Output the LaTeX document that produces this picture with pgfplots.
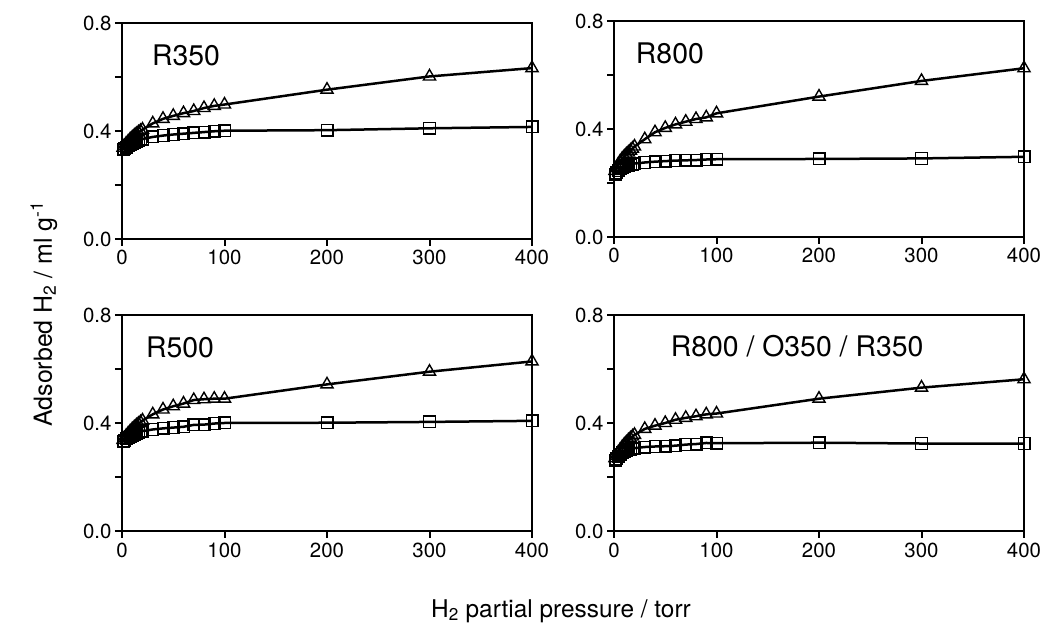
\documentclass[border=0pt]{standalone}
\usepackage{fontspec}
\setmainfont{TeX Gyre Heros}
\usepackage{pgfplots}
\pgfplotsset{compat=1.18}

\pgfplotsset{
  panel/.style={
    scale only axis, width=410bp, height=216bp,
    xmin=0, xmax=400, ymin=0, ymax=0.8,
    xtick={0,100,200,300,400}, ytick={0,0.4,0.8},
    minor ytick={0.2,0.6},
    xtick pos=bottom, ytick pos=left, tick align=outside,
    major tick length=7bp, minor tick length=7bp,
    every tick/.style={black, line width=2bp},
    axis line style={line width=2.6bp},
    yticklabel style={/pgf/number format/fixed, /pgf/number format/fixed zerofill, /pgf/number format/precision=1},
    /pgf/number format/assume math mode=true,
    tick label style={font=\fontsize{20.5}{23}\selectfont},
    xticklabel style={yshift=-1bp},
    clip=false,
  },
  sq/.style={black, line width=2.5bp, mark=square, mark size=5.8bp, mark options={fill=white, line width=1.4bp}},
  tri/.style={black, line width=2.5bp, mark=triangle, mark size=7bp, mark options={fill=white, line width=1.4bp}},
}
\tikzset{lab/.style={anchor=west, font=\fontsize{28.5}{31}\selectfont}}

\begin{document}
\begin{tikzpicture}
\useasboundingbox (0,0) rectangle (1045bp,632bp);

% R350
\begin{axis}[panel, at={(122bp,393bp)}, anchor=south west]
  \addplot[tri] coordinates {
    (1,0.338)(2,0.344)(4,0.353)(6,0.361)(8,0.369)(10,0.376)(12,0.383)(14,0.389)(16,0.395)(18,0.400)(20,0.405)
    (30,0.428)(40,0.445)(50,0.456)(60,0.466)(70,0.474)(80,0.485)(90,0.493)(100,0.498)(200,0.553)(300,0.602)(400,0.633)};
  \addplot[sq] coordinates {
    (1,0.330)(2,0.334)(4,0.340)(6,0.345)(8,0.350)(10,0.354)(12,0.358)(14,0.361)(16,0.364)(18,0.367)(20,0.370)
    (30,0.378)(40,0.383)(50,0.387)(60,0.390)(70,0.393)(80,0.396)(90,0.399)(100,0.401)(200,0.403)(300,0.410)(400,0.415)};
  \node[lab] at (rel axis cs:0.065,0.85) {R350};
\end{axis}

% R800
\begin{axis}[panel, at={(614bp,395bp)}, anchor=south west]
  \addplot[tri] coordinates {
    (1,0.245)(2,0.255)(4,0.268)(6,0.280)(8,0.290)(10,0.298)(12,0.306)(14,0.313)(16,0.320)(18,0.327)(20,0.335)
    (30,0.362)(40,0.388)(50,0.404)(60,0.417)(70,0.427)(80,0.437)(90,0.443)(100,0.458)(200,0.520)(300,0.578)(400,0.625)};
  \addplot[sq] coordinates {
    (1,0.232)(2,0.238)(4,0.246)(6,0.252)(8,0.257)(10,0.261)(12,0.264)(14,0.266)(16,0.268)(18,0.270)(20,0.272)
    (30,0.276)(40,0.279)(50,0.281)(60,0.283)(70,0.284)(80,0.285)(90,0.287)(100,0.288)(200,0.289)(300,0.291)(400,0.297)};
  \node[lab] at (rel axis cs:0.045,0.85) {R800};
\end{axis}

% R500
\begin{axis}[panel, at={(122bp,101bp)}, anchor=south west]
  \addplot[tri] coordinates {
    (1,0.337)(2,0.343)(4,0.352)(6,0.361)(8,0.369)(10,0.377)(12,0.384)(14,0.391)(16,0.397)(18,0.403)(20,0.409)
    (30,0.432)(40,0.450)(50,0.462)(60,0.472)(70,0.485)(80,0.488)(90,0.490)(100,0.490)(200,0.543)(300,0.590)(400,0.628)};
  \addplot[sq] coordinates {
    (1,0.330)(2,0.335)(4,0.341)(6,0.346)(8,0.351)(10,0.355)(12,0.358)(14,0.361)(16,0.364)(18,0.367)(20,0.370)
    (30,0.376)(40,0.380)(50,0.383)(60,0.386)(70,0.393)(80,0.394)(90,0.398)(100,0.400)(200,0.401)(300,0.404)(400,0.408)};
  \node[lab] at (rel axis cs:0.05,0.85) {R500};
\end{axis}

% R800 / O350 / R350
\begin{axis}[panel, at={(614bp,101bp)}, anchor=south west]
  \addplot[tri] coordinates {
    (1,0.270)(2,0.278)(4,0.290)(6,0.301)(8,0.311)(10,0.320)(12,0.328)(14,0.336)(16,0.343)(18,0.350)(20,0.356)
    (30,0.378)(40,0.390)(50,0.400)(60,0.412)(70,0.419)(80,0.425)(90,0.432)(100,0.435)(200,0.490)(300,0.531)(400,0.562)};
  \addplot[sq] coordinates {
    (1,0.262)(2,0.268)(4,0.276)(6,0.283)(8,0.289)(10,0.294)(12,0.297)(14,0.300)(16,0.303)(18,0.305)(20,0.307)
    (30,0.311)(40,0.313)(50,0.314)(60,0.316)(70,0.320)(80,0.322)(90,0.326)(100,0.325)(200,0.327)(300,0.324)(400,0.324)};
  \node[lab] at (rel axis cs:0.13,0.855) {R800 / O350 / R350};
\end{axis}

\node[rotate=90, font=\fontsize{25}{28}\selectfont] at (44bp,318bp) {Adsorbed H\textsubscript{2} / ml g\textsuperscript{-1}};
\node[font=\fontsize{24.5}{27}\selectfont] at (561bp,21bp) {H\textsubscript{2} partial pressure / torr};
\end{tikzpicture}
\end{document}
